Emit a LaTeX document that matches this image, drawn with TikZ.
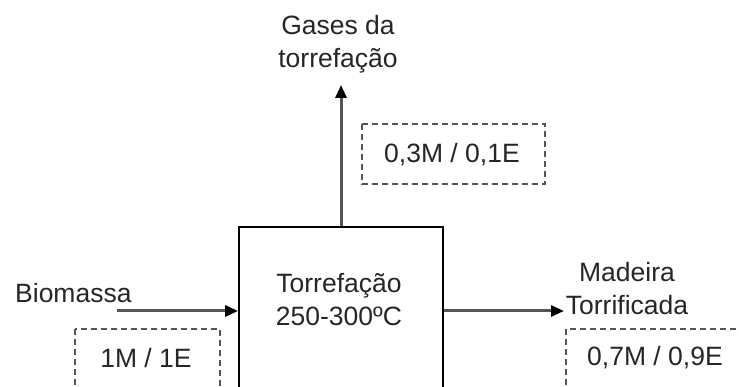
\documentclass[tikz,border=0pt]{standalone}
\usepackage{fontspec}
\setmainfont{Liberation Sans}
\usetikzlibrary{arrows.meta}
\definecolor{linegray}{RGB}{85,85,85}
\tikzset{
  lbl/.style={inner sep=0pt, font=\fontsize{26.5}{33}\selectfont, text=black!85, align=center},
  flow/.style={draw=linegray, line width=3pt, -{Triangle[length=13pt,width=11pt,fill=black,color=black]}},
  dashbox/.style={draw=linegray, line width=1.3pt, dash pattern=on 6pt off 4pt},
  mainbox/.style={draw=black, line width=1.8pt, minimum width=204pt, minimum height=168pt, inner sep=0pt}
}
\begin{document}
\begin{tikzpicture}[x=1pt,y=-1pt]
\useasboundingbox (0,0) rectangle (739,387);
\clip (0,0) rectangle (739,387);
\fill[white] (0,0) rectangle (739,387);
% main box
\node[mainbox] (torr) at (341,311) {};
\node[lbl, anchor=base] (torrtxt) at (339,326) {Torrefação\\250-300ºC};
% top output
\node[lbl, anchor=base] (gases) at (338,68) {Gases da\\torrefação};
\coordinate (gtip) at (341,85);
\draw[flow] (torr.north) -- (gtip);
\draw[dashbox] (362,124) rectangle (545,184);
\node[lbl, anchor=base] (m03) at (452,163) {0,3M / 0,1E};
% input
\node[lbl, anchor=base west] (bio) at (15,303) {Biomassa};
\coordinate (bstart) at (117,311);
\draw[flow] (bstart) -- (torr.west);
\draw[dashbox] (75,329) rectangle (220,400);
\node[lbl, anchor=base] (m1) at (146,367) {1M / 1E};
% output
\node[lbl, anchor=base] (mad) at (627,315) {Madeira\\Torrificada};
\coordinate (mend) at (564,311);
\draw[flow] (torr.east) -- (mend);
\draw[dashbox] (566,329) rectangle (760,400);
\node[lbl, anchor=base] (m07) at (655,366) {0,7M / 0,9E};
\end{tikzpicture}
\end{document}
